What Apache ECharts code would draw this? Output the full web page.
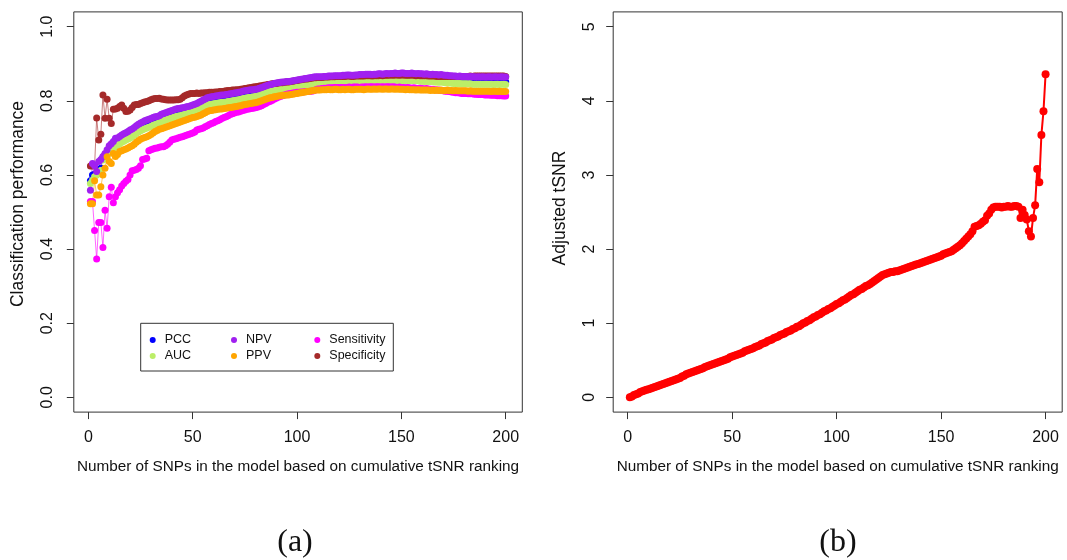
<!DOCTYPE html>
<html>
<head>
<meta charset="utf-8">
<script src="https://cdn.jsdelivr.net/npm/echarts@6/dist/echarts.min.js"></script>
<style>
html,body{margin:0;padding:0;background:#fff;}
#chart{width:1067px;height:560px;}
</style>
</head>
<body>
<div id="chart"></div>
<script>
// Model size: number of top-ranked SNPs included (1..200)
const snpCount = Array.from({length: 200}, (_, i) => i + 1);

// Panel (a): classification performance per model size
const pcc = [
.584,.600,.602,.606,.611,.618,.647,.655,.660,.667,
.672,.677,.684,.687,.691,.695,.698,.701,.704,.707,
.710,.714,.719,.723,.726,.729,.732,.734,.736,.738,
.741,.743,.745,.747,.751,.753,.755,.757,.759,.761,
.763,.765,.766,.767,.769,.770,.772,.774,.776,.777,
.779,.781,.783,.786,.789,.792,.795,.797,.798,.799,
.800,.801,.802,.803,.803,.804,.805,.806,.807,.808,
.809,.810,.811,.813,.814,.815,.816,.817,.818,.819,
.820,.822,.824,.826,.828,.830,.832,.833,.835,.836,
.837,.838,.839,.839,.840,.840,.841,.842,.843,.844,
.845,.846,.847,.848,.849,.850,.851,.852,.853,.853,
.853,.853,.854,.854,.855,.855,.855,.856,.856,.856,
.856,.857,.857,.858,.858,.857,.857,.858,.858,.859,
.859,.859,.860,.860,.860,.859,.860,.860,.861,.861,
.860,.861,.861,.861,.862,.862,.862,.862,.862,.862,
.862,.862,.862,.862,.862,.861,.861,.861,.860,.860,
.859,.860,.859,.859,.859,.858,.858,.857,.858,.857,
.856,.856,.855,.855,.854,.854,.854,.854,.853,.853,
.853,.853,.853,.852,.852,.852,.852,.852,.852,.852,
.852,.852,.852,.851,.852,.852,.851,.852,.852,.851];

const auc = [
.577,.586,.595,.600,.604,.612,.640,.648,.653,.660,
.665,.670,.677,.680,.684,.688,.691,.694,.697,.700,
.703,.707,.712,.716,.719,.722,.725,.727,.729,.731,
.734,.736,.738,.740,.744,.746,.748,.750,.752,.754,
.756,.758,.759,.760,.762,.763,.765,.767,.769,.770,
.772,.774,.776,.779,.782,.785,.788,.790,.791,.792,
.793,.794,.795,.796,.796,.797,.798,.799,.800,.801,
.802,.803,.804,.806,.807,.808,.809,.810,.811,.812,
.813,.815,.817,.819,.821,.823,.825,.826,.828,.829,
.830,.831,.832,.832,.833,.833,.834,.835,.836,.837,
.838,.839,.840,.841,.842,.843,.844,.845,.846,.846,
.846,.846,.847,.847,.848,.848,.848,.849,.849,.849,
.849,.850,.850,.851,.851,.850,.850,.851,.851,.852,
.852,.852,.853,.853,.853,.852,.853,.853,.854,.854,
.853,.854,.854,.854,.855,.855,.855,.855,.855,.855,
.855,.855,.855,.855,.855,.854,.854,.854,.853,.853,
.852,.853,.852,.852,.852,.851,.851,.850,.851,.850,
.849,.849,.848,.848,.847,.847,.847,.847,.846,.846,
.846,.846,.846,.845,.845,.845,.845,.845,.845,.845,
.845,.845,.845,.844,.845,.845,.844,.845,.845,.844];

const npv = [
.559,.631,.625,.609,.636,.642,.650,.658,.668,.679,
.684,.690,.699,.700,.704,.708,.711,.714,.717,.721,
.724,.728,.733,.737,.740,.743,.746,.748,.750,.752,
.755,.757,.758,.760,.764,.766,.768,.770,.772,.774,
.776,.778,.779,.780,.781,.782,.784,.785,.787,.789,
.791,.793,.796,.799,.802,.805,.808,.810,.811,.812,
.813,.814,.815,.816,.816,.817,.818,.819,.820,.821,
.822,.823,.824,.826,.827,.828,.829,.830,.830,.831,
.832,.834,.836,.838,.840,.842,.844,.845,.847,.848,
.849,.850,.851,.851,.852,.852,.853,.854,.855,.856,
.857,.858,.859,.860,.861,.862,.863,.864,.865,.865,
.865,.865,.866,.866,.867,.867,.867,.868,.868,.868,
.868,.869,.869,.870,.870,.869,.869,.870,.870,.871,
.871,.871,.872,.872,.872,.871,.872,.872,.873,.873,
.872,.873,.874,.873,.874,.874,.875,.874,.874,.875,
.875,.874,.874,.874,.875,.874,.873,.874,.873,.873,
.872,.873,.872,.871,.872,.871,.871,.870,.871,.870,
.869,.869,.868,.868,.867,.867,.866,.867,.866,.866,
.866,.865,.866,.865,.865,.864,.865,.864,.865,.864,
.864,.865,.864,.864,.865,.864,.864,.865,.864,.864];

const ppv = [
.522,.522,.584,.546,.546,.568,.600,.618,.649,.636,
.631,.658,.650,.655,.663,.665,.668,.670,.673,.676,
.679,.683,.688,.692,.696,.699,.701,.703,.706,.709,
.713,.717,.720,.723,.725,.727,.729,.731,.733,.735,
.737,.739,.741,.743,.745,.747,.749,.751,.753,.755,
.756,.758,.760,.762,.765,.768,.771,.773,.774,.775,
.776,.777,.778,.778,.779,.780,.781,.782,.783,.784,
.785,.786,.787,.789,.790,.791,.792,.793,.794,.795,
.796,.798,.800,.802,.804,.806,.808,.809,.811,.812,
.813,.814,.815,.815,.816,.816,.817,.818,.819,.820,
.821,.822,.823,.824,.825,.826,.827,.828,.829,.829,
.829,.830,.830,.830,.831,.830,.830,.831,.831,.830,
.830,.831,.830,.831,.831,.830,.830,.831,.831,.831,
.831,.830,.831,.832,.831,.831,.832,.831,.832,.832,
.831,.832,.832,.831,.832,.832,.831,.832,.831,.831,
.831,.830,.831,.830,.830,.830,.829,.830,.829,.829,
.829,.829,.829,.828,.829,.828,.829,.828,.829,.828,
.828,.829,.828,.828,.827,.828,.827,.827,.827,.827,
.827,.826,.827,.826,.826,.826,.826,.826,.826,.826,
.826,.826,.825,.826,.826,.825,.826,.825,.825,.825];

const sensitivity = [
.528,.528,.450,.373,.472,.472,.404,.505,.456,.541,
.567,.525,.541,.552,.560,.570,.577,.583,.588,.600,
.611,.613,.615,.618,.625,.642,.643,.645,.665,.668,
.670,.672,.673,.675,.676,.676,.679,.683,.688,.694,
.696,.698,.700,.702,.703,.705,.707,.709,.711,.713,
.716,.721,.723,.725,.727,.730,.733,.736,.739,.741,
.744,.746,.749,.752,.755,.757,.760,.763,.765,.767,
.769,.770,.772,.774,.775,.777,.778,.779,.780,.781,
.783,.785,.787,.790,.793,.796,.798,.801,.804,.807,
.810,.812,.814,.816,.818,.819,.820,.821,.822,.823,
.823,.824,.824,.825,.825,.826,.826,.827,.830,.832,
.832,.833,.834,.834,.835,.835,.835,.836,.836,.836,
.836,.836,.835,.836,.837,.836,.837,.837,.837,.836,
.837,.837,.838,.837,.838,.838,.837,.838,.838,.837,
.838,.837,.838,.838,.837,.838,.837,.836,.837,.836,
.836,.835,.836,.835,.834,.835,.834,.833,.834,.833,
.832,.833,.832,.831,.831,.830,.829,.829,.828,.827,
.826,.826,.825,.824,.823,.822,.822,.821,.820,.820,
.820,.819,.819,.819,.818,.818,.817,.817,.817,.816,
.816,.816,.815,.815,.815,.814,.814,.814,.813,.813];

const specificity = [
.624,.624,.624,.754,.694,.710,.816,.753,.804,.753,
.739,.777,.778,.780,.785,.789,.780,.771,.772,.775,
.782,.789,.790,.790,.793,.795,.797,.798,.800,.803,
.805,.806,.806,.807,.805,.804,.803,.802,.802,.802,
.802,.803,.803,.804,.808,.813,.816,.818,.820,.820,
.820,.821,.820,.821,.821,.822,.822,.823,.823,.823,
.824,.824,.825,.825,.826,.827,.828,.828,.829,.829,
.830,.830,.831,.832,.833,.834,.835,.836,.837,.838,
.839,.840,.841,.842,.843,.844,.845,.846,.847,.847,
.848,.849,.849,.850,.851,.851,.852,.853,.854,.855,
.856,.857,.858,.859,.859,.860,.861,.862,.862,.863,
.863,.863,.864,.864,.864,.865,.865,.865,.866,.866,
.866,.866,.866,.867,.867,.866,.866,.867,.867,.867,
.867,.867,.868,.868,.868,.867,.868,.868,.868,.869,
.868,.869,.869,.869,.870,.869,.870,.870,.869,.870,
.870,.869,.869,.869,.870,.869,.868,.869,.868,.868,
.868,.868,.867,.867,.867,.867,.866,.866,.866,.866,
.866,.866,.866,.866,.866,.866,.866,.866,.866,.866,
.866,.866,.867,.866,.867,.867,.867,.867,.867,.867,
.867,.867,.867,.867,.867,.867,.867,.867,.867,.866];

// Panel (b): adjusted tSNR per model size
const adjustedTsnr = [
0.00,0.01,0.03,0.04,0.05,0.07,0.08,0.09,0.10,0.11,
0.12,0.13,0.14,0.15,0.16,0.17,0.18,0.19,0.20,0.21,
0.22,0.23,0.24,0.25,0.26,0.28,0.29,0.31,0.32,0.33,
0.34,0.35,0.36,0.37,0.38,0.39,0.41,0.42,0.43,0.44,
0.45,0.46,0.47,0.48,0.49,0.50,0.51,0.52,0.54,0.55,
0.56,0.57,0.58,0.59,0.60,0.62,0.63,0.64,0.65,0.66,
0.68,0.69,0.70,0.72,0.73,0.74,0.76,0.77,0.78,0.80,
0.81,0.82,0.84,0.85,0.86,0.88,0.89,0.90,0.92,0.93,
0.95,0.96,0.98,1.00,1.01,1.03,1.04,1.06,1.08,1.09,
1.11,1.12,1.14,1.16,1.17,1.19,1.20,1.22,1.24,1.26,
1.27,1.29,1.31,1.32,1.34,1.36,1.38,1.39,1.41,1.43,
1.45,1.46,1.48,1.50,1.51,1.53,1.55,1.57,1.59,1.61,
1.63,1.65,1.66,1.67,1.68,1.69,1.69,1.70,1.70,1.71,
1.72,1.73,1.74,1.75,1.76,1.77,1.78,1.79,1.80,1.81,
1.82,1.83,1.84,1.85,1.86,1.87,1.88,1.89,1.90,1.91,
1.93,1.94,1.95,1.96,1.97,1.99,2.01,2.03,2.05,2.08,
2.11,2.14,2.17,2.20,2.24,2.30,2.31,2.32,2.34,2.37,
2.39,2.45,2.48,2.53,2.56,2.57,2.57,2.57,2.56,2.57,
2.57,2.58,2.57,2.57,2.58,2.58,2.57,2.42,2.53,2.46,
2.40,2.24,2.17,2.42,2.59,3.08,2.90,3.54,3.86,4.36];

// Tick positions
const xTicks = [0, 50, 100, 150, 200];
const yTicksA = [0, 0.2, 0.4, 0.6, 0.8, 1.0];
const yTicksB = [0, 1, 2, 3, 4, 5];

const SANS = '"Liberation Sans", Arial, Helvetica, sans-serif';
const SERIF = '"Liberation Serif", "DejaVu Serif", serif';
const INK = '#111';
const FRAME = '#333';

const pair = arr => arr.map((v, i) => [snpCount[i], v]);

function xAxisDef(gridIndex) {
  return {
    type: 'value', gridIndex, position: 'bottom',
    min: -6.96, max: 207.96,
    axisLine: {show: false, onZero: false},
    splitLine: {show: false},
    axisTick: {show: true, inside: false, customValues: xTicks, length: 7, lineStyle: {color: FRAME, width: 1}},
    axisLabel: {customValues: xTicks, margin: 17, fontSize: 16, fontFamily: SANS, color: INK}
  };
}
function yAxisDef(gridIndex, min, max, ticks, fmt, margin) {
  return {
    type: 'value', gridIndex, position: 'left', min, max,
    axisLine: {show: false, onZero: false},
    splitLine: {show: false},
    axisTick: {show: true, inside: false, customValues: ticks, length: 7, lineStyle: {color: FRAME, width: 1}},
    axisLabel: {customValues: ticks, rotate: 90, margin, fontSize: 16, fontFamily: SANS, color: INK, formatter: fmt}
  };
}

function perfSeries(name, data, color) {
  return {
    type: 'line', name, xAxisIndex: 0, yAxisIndex: 0,
    data: pair(data),
    symbol: 'circle', symbolSize: 7,
    showSymbol: true, showAllSymbol: true,
    itemStyle: {color},
    lineStyle: {color, width: 1, opacity: 0.6},
    emphasis: {disabled: true},
    silent: true, animation: false
  };
}

const COLORS = {
  PCC: '#0000FF', AUC: '#BCEE68', NPV: '#A020F0',
  PPV: '#FFA500', Sensitivity: '#FF00FF', Specificity: '#A52A2A'
};

const legendBase = {
  orient: 'vertical', icon: 'circle', itemWidth: 14, itemHeight: 6, itemGap: 2,
  padding: 0, selectedMode: false, top: 333,
  textStyle: {fontSize: 12.5, lineHeight: 14, fontFamily: SANS, color: INK}
};

const chart = echarts.init(document.getElementById('chart'), null, {renderer: 'canvas'});
chart.setOption({
  backgroundColor: '#fff',
  animation: false,
  grid: [
    {left: 73.8, top: 11.9, width: 448.5, height: 400.2, show: true, borderColor: FRAME, borderWidth: 1, backgroundColor: 'transparent'},
    {left: 613.2, top: 11.9, width: 449, height: 400.2, show: true, borderColor: FRAME, borderWidth: 1, backgroundColor: 'transparent'}
  ],
  xAxis: [xAxisDef(0), xAxisDef(1)],
  yAxis: [
    yAxisDef(0, -0.04, 1.04, yTicksA, v => v.toFixed(1), 18),
    yAxisDef(1, -0.2, 5.2, yTicksB, v => String(v), 16)
  ],
  legend: [
    Object.assign({}, legendBase, {left: 149.7, data: ['PCC', 'AUC']}),
    Object.assign({}, legendBase, {left: 231, data: ['NPV', 'PPV']}),
    Object.assign({}, legendBase, {left: 314.3, data: ['Sensitivity', 'Specificity']})
  ],
  series: [
    perfSeries('PCC', pcc, COLORS.PCC),
    perfSeries('AUC', auc, COLORS.AUC),
    perfSeries('Specificity', specificity, COLORS.Specificity),
    perfSeries('NPV', npv, COLORS.NPV),
    perfSeries('Sensitivity', sensitivity, COLORS.Sensitivity),
    perfSeries('PPV', ppv, COLORS.PPV),
    {
      type: 'line', name: 'Adjusted tSNR', xAxisIndex: 1, yAxisIndex: 1,
      data: pair(adjustedTsnr),
      symbol: 'circle', symbolSize: 8,
      showSymbol: true, showAllSymbol: true,
      itemStyle: {color: '#FF0000'},
      lineStyle: {color: '#FF0000', width: 2},
      emphasis: {disabled: true},
      silent: true, animation: false
    }
  ],
  graphic: [
    {type: 'rect', silent: true, z: 3,
     shape: {x: 140.7, y: 323.3, width: 252.6, height: 47.7},
     style: {fill: '#fff', stroke: FRAME, lineWidth: 1}},
    {type: 'text', silent: true, x: 298, y: 467,
     style: {text: 'Number of SNPs in the model based on cumulative tSNR ranking', fontSize: 15.3, fontFamily: SANS, fill: INK, align: 'center', verticalAlign: 'middle'}},
    {type: 'text', silent: true, x: 837.7, y: 467,
     style: {text: 'Number of SNPs in the model based on cumulative tSNR ranking', fontSize: 15.3, fontFamily: SANS, fill: INK, align: 'center', verticalAlign: 'middle'}},
    {type: 'text', silent: true, x: 18, y: 204, rotation: Math.PI / 2,
     style: {text: 'Classification performance', fontSize: 17.5, fontFamily: SANS, fill: INK, align: 'center', verticalAlign: 'middle'}},
    {type: 'text', silent: true, x: 560, y: 208, rotation: Math.PI / 2,
     style: {text: 'Adjusted tSNR', fontSize: 17.5, fontFamily: SANS, fill: INK, align: 'center', verticalAlign: 'middle'}},
    {type: 'text', silent: true, x: 295, y: 543,
     style: {text: '(a)', fontSize: 32, fontFamily: SERIF, fill: INK, align: 'center', verticalAlign: 'middle'}},
    {type: 'text', silent: true, x: 838, y: 543,
     style: {text: '(b)', fontSize: 32, fontFamily: SERIF, fill: INK, align: 'center', verticalAlign: 'middle'}}
  ]
});
</script>
</body>
</html>
